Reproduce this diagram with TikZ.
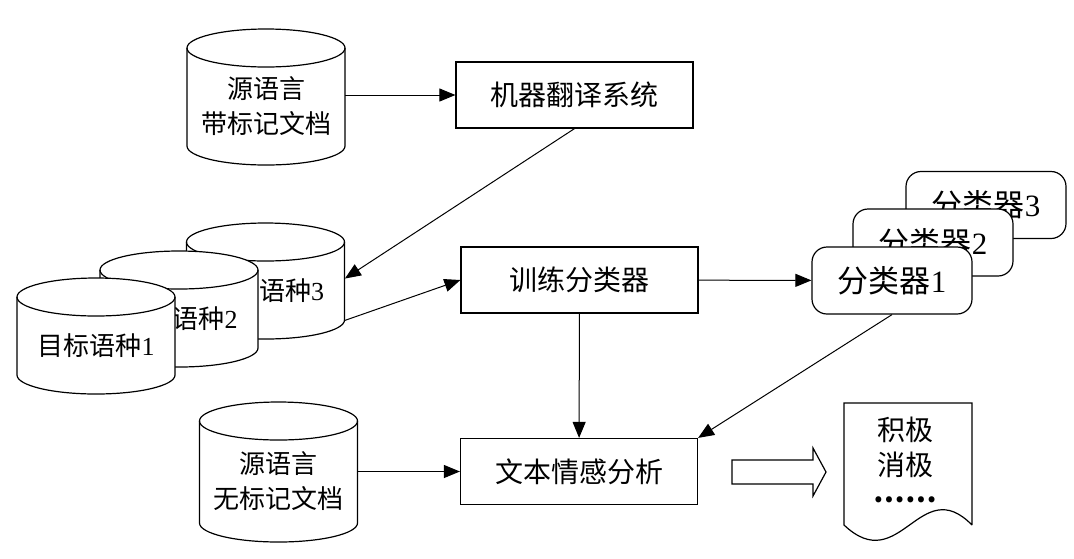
\documentclass[tikz,border=0pt]{standalone}
\usepackage{fontspec}
\setmainfont{Liberation Serif}
\newfontfamily\cjk{Noto Sans CJK SC}
\usetikzlibrary{arrows.meta,calc}

\tikzset{
	box/.style={draw, line width=.6pt, minimum width=118.5pt, minimum height=33pt, font=\cjk\fontsize{14}{17}\selectfont},
	cls/.style={box, fill=white, rounded corners=7.5pt, minimum width=80pt, minimum height=33.5pt, font=\cjk\fontsize{15.5}{18}\selectfont},
	cyltext/.style={inner sep=0pt, align=center, font=\cjk\fontsize{13}{17.5}\selectfont},
	link/.style={-{Triangle[length=8pt,width=6.5pt]}, line width=.5pt},
}

% cylinder: name, centre x, top y, bottom y, text (pixels, y downwards)
\newcommand{\cyl}[5]{%
	\draw[fill=white, line width=.6pt] (#2-79,-#3) -- (#2-79,-#4)
		arc[start angle=180, end angle=360, x radius=79, y radius=19] -- (#2+79,-#3)
		arc[start angle=0, end angle=180, x radius=79, y radius=19] -- cycle;
	\draw[line width=.6pt] (#2-79,-#3) arc[start angle=180, end angle=360, x radius=79, y radius=19];
	\node[cyltext, minimum width=79pt, minimum height={(#4-#3-19)*0.5pt}] (#1) at (#2,{-(#3+19+#4)/2}) {#5};
}

\begin{document}
\begin{tikzpicture}[x=.5pt,y=.5pt]
	\useasboundingbox (0,0) rectangle (1074,-558);
	% data
	\cyl{src}{266}{48}{146}{源语言\\带标记文档}
	\cyl{tgt3}{265.5}{242}{320}{目标语种\rmfamily 3}
	\cyl{tgt2}{179}{270}{348}{目标语种\rmfamily 2}
	\cyl{tgt1}{96}{297}{375}{目标语种\rmfamily 1}
	\cyl{test}{278.5}{421}{523}{源语言\\无标记文档}
	% processing
	\node[box] (mt) at (574.5,-95) {机器翻译系统};
	\node[box] (train) at (579.5,-280) {训练分类器};
	\node[box] (senti) at (579,-471.5) {文本情感分析};
	\node[cls] (cls3) at (986,-205) {分类器\rmfamily 3};
	\node[cls] (cls2) at (933,-242.5) {分类器\rmfamily 2};
	\node[cls] (cls1) at (892,-280.5) {分类器\rmfamily 1};
	% links
	\draw[link] (src.east |- mt) -- (mt);
	\draw[link] (mt.south) -- ($(tgt3.north east)!.3!(tgt3.south east)$);
	\draw[link] (tgt3.south east) -- (train.west);
	\draw[link] (train) -- (cls1);
	\draw[link] (train) -- (senti);
	\draw[link] (cls1.south) -- (senti.north east);
	\draw[link] (test.east |- senti) -- (senti);
	% result
	\draw[line width=.6pt] (732,-460) -- (813,-460) -- (813,-448) -- (826,-472) -- (813,-496) -- (813,-484) -- (732,-484) -- cycle;
	\draw[line width=.6pt] (972,-525) -- (972,-403) -- (844,-403) -- (844,-525) .. controls (900,-578) and (920,-472) .. (972,-525);
	\node[align=center, font=\cjk\fontsize{14}{17.5}\selectfont] (res) at (905,-464) {积极\\消极\\\raisebox{.3em}{\bfseries ……}};
\end{tikzpicture}
\end{document}
